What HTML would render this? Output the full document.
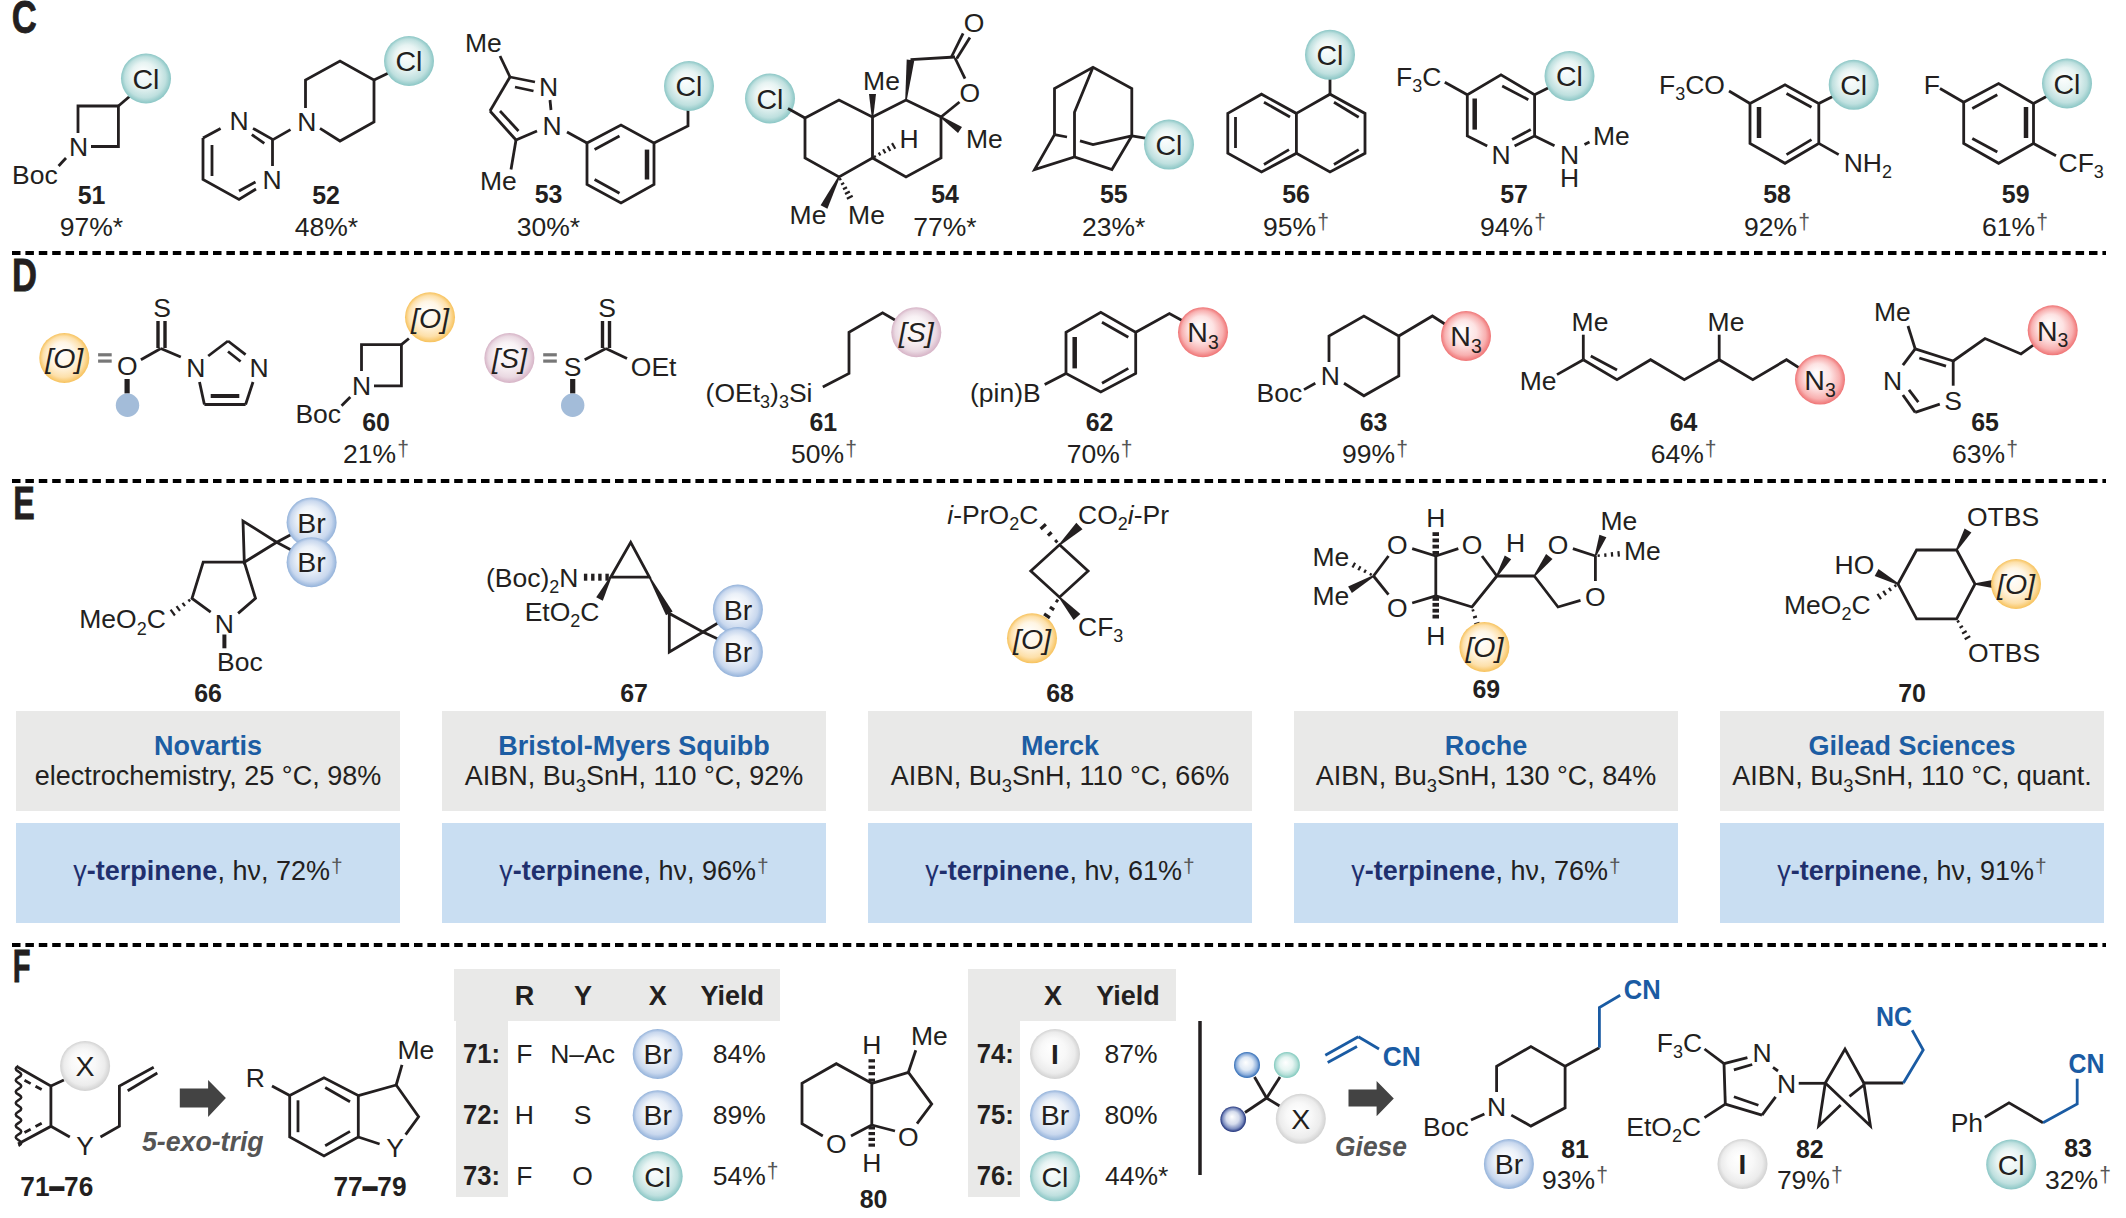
<!DOCTYPE html>
<html><head><meta charset="utf-8"><style>
html,body{margin:0;padding:0;background:#fff;}
svg{display:block;font-family:"Liberation Sans",sans-serif;}
</style></head><body>
<svg width="2126" height="1218" viewBox="0 0 2126 1218">
<defs><radialGradient id="g_cl" cx="0.5" cy="0.5" r="0.5" fx="0.42" fy="0.36"><stop offset="0" stop-color="#ffffff"/><stop offset="0.5" stop-color="#e6f3f2"/><stop offset="0.82" stop-color="#bfe0df"/><stop offset="1" stop-color="#8ac6c5"/></radialGradient><radialGradient id="g_br" cx="0.5" cy="0.5" r="0.5" fx="0.42" fy="0.36"><stop offset="0" stop-color="#ffffff"/><stop offset="0.5" stop-color="#eaf0f8"/><stop offset="0.82" stop-color="#c9d8ee"/><stop offset="1" stop-color="#93b2da"/></radialGradient><radialGradient id="g_o" cx="0.5" cy="0.5" r="0.5" fx="0.42" fy="0.36"><stop offset="0" stop-color="#ffffff"/><stop offset="0.5" stop-color="#fff5e3"/><stop offset="0.82" stop-color="#fde0aa"/><stop offset="1" stop-color="#f7c25c"/></radialGradient><radialGradient id="g_s" cx="0.5" cy="0.5" r="0.5" fx="0.42" fy="0.36"><stop offset="0" stop-color="#ffffff"/><stop offset="0.5" stop-color="#f8f1f4"/><stop offset="0.82" stop-color="#ead9e2"/><stop offset="1" stop-color="#d6b3c6"/></radialGradient><radialGradient id="g_n3" cx="0.5" cy="0.5" r="0.5" fx="0.42" fy="0.36"><stop offset="0" stop-color="#ffffff"/><stop offset="0.5" stop-color="#fde3e3"/><stop offset="0.82" stop-color="#f8b0b0"/><stop offset="1" stop-color="#ef7475"/></radialGradient><radialGradient id="g_x" cx="0.5" cy="0.5" r="0.5" fx="0.42" fy="0.36"><stop offset="0" stop-color="#ffffff"/><stop offset="0.5" stop-color="#f8f8f8"/><stop offset="0.82" stop-color="#ececec"/><stop offset="1" stop-color="#d2d2d2"/></radialGradient><radialGradient id="g_b1" cx="0.5" cy="0.5" r="0.5" fx="0.45" fy="0.4"><stop offset="0" stop-color="#ffffff"/><stop offset="0.5" stop-color="#dfe9f5"/><stop offset="0.8" stop-color="#8fb0dc"/><stop offset="1" stop-color="#2f6bb5"/></radialGradient><radialGradient id="g_b2" cx="0.5" cy="0.5" r="0.5" fx="0.45" fy="0.4"><stop offset="0" stop-color="#ffffff"/><stop offset="0.5" stop-color="#e6f5f2"/><stop offset="0.8" stop-color="#b7e0d9"/><stop offset="1" stop-color="#80c9bd"/></radialGradient><radialGradient id="g_b3" cx="0.5" cy="0.5" r="0.5" fx="0.45" fy="0.4"><stop offset="0" stop-color="#ffffff"/><stop offset="0.5" stop-color="#d5dcec"/><stop offset="0.8" stop-color="#7e8fc0"/><stop offset="1" stop-color="#1d2f78"/></radialGradient></defs>
<rect width="2126" height="1218" fill="#fff"/>
<line x1="12" y1="253" x2="2106" y2="253" stroke="#000" stroke-width="4" stroke-dasharray="8.5 4.9"/>
<line x1="12" y1="481" x2="2106" y2="481" stroke="#000" stroke-width="4" stroke-dasharray="8.5 4.9"/>
<line x1="12" y1="945" x2="2106" y2="945" stroke="#000" stroke-width="4" stroke-dasharray="8.5 4.9"/>
<text x="11.8" y="33.2" font-size="47" fill="#231f20" font-weight="bold" textLength="25" lengthAdjust="spacingAndGlyphs" stroke="#231f20" stroke-width="0.8">C</text>
<text x="12" y="291" font-size="47" fill="#231f20" font-weight="bold" textLength="25" lengthAdjust="spacingAndGlyphs" stroke="#231f20" stroke-width="0.8">D</text>
<text x="13.3" y="519.2" font-size="47" fill="#231f20" font-weight="bold" textLength="21.5" lengthAdjust="spacingAndGlyphs" stroke="#231f20" stroke-width="0.8">E</text>
<text x="12.8" y="981.8" font-size="47" fill="#231f20" font-weight="bold" textLength="17.8" lengthAdjust="spacingAndGlyphs" stroke="#231f20" stroke-width="0.8">F</text>
<rect x="16" y="711" width="384" height="100" fill="#e9e9e8"/>
<rect x="16" y="823" width="384" height="100" fill="#c9def2"/>
<text x="208" y="755" font-size="27" fill="#1c5da3" text-anchor="middle" font-weight="bold">Novartis</text>
<text x="208" y="785" font-size="27" fill="#231f20" text-anchor="middle">electrochemistry, 25 °C, 98%</text>
<text x="208" y="879.5" font-size="27" text-anchor="middle" fill="#231f20"><tspan fill="#1f2f6d">γ</tspan><tspan font-weight="bold" fill="#1f2f6d">-terpinene</tspan>, hν, 72%<tspan dy="-7" dx="1" font-size="21" fill="#555">†</tspan></text>
<rect x="442" y="711" width="384" height="100" fill="#e9e9e8"/>
<rect x="442" y="823" width="384" height="100" fill="#c9def2"/>
<text x="634" y="755" font-size="27" fill="#1c5da3" text-anchor="middle" font-weight="bold">Bristol-Myers Squibb</text>
<text x="634" y="785" font-size="27" fill="#231f20" text-anchor="middle">AIBN, Bu<tspan dy="6.5" font-size="18.4">3</tspan><tspan dy="-6.5">​</tspan>SnH, 110 °C, 92%</text>
<text x="634" y="879.5" font-size="27" text-anchor="middle" fill="#231f20"><tspan fill="#1f2f6d">γ</tspan><tspan font-weight="bold" fill="#1f2f6d">-terpinene</tspan>, hν, 96%<tspan dy="-7" dx="1" font-size="21" fill="#555">†</tspan></text>
<rect x="868" y="711" width="384" height="100" fill="#e9e9e8"/>
<rect x="868" y="823" width="384" height="100" fill="#c9def2"/>
<text x="1060" y="755" font-size="27" fill="#1c5da3" text-anchor="middle" font-weight="bold">Merck</text>
<text x="1060" y="785" font-size="27" fill="#231f20" text-anchor="middle">AIBN, Bu<tspan dy="6.5" font-size="18.4">3</tspan><tspan dy="-6.5">​</tspan>SnH, 110 °C, 66%</text>
<text x="1060" y="879.5" font-size="27" text-anchor="middle" fill="#231f20"><tspan fill="#1f2f6d">γ</tspan><tspan font-weight="bold" fill="#1f2f6d">-terpinene</tspan>, hν, 61%<tspan dy="-7" dx="1" font-size="21" fill="#555">†</tspan></text>
<rect x="1294" y="711" width="384" height="100" fill="#e9e9e8"/>
<rect x="1294" y="823" width="384" height="100" fill="#c9def2"/>
<text x="1486" y="755" font-size="27" fill="#1c5da3" text-anchor="middle" font-weight="bold">Roche</text>
<text x="1486" y="785" font-size="27" fill="#231f20" text-anchor="middle">AIBN, Bu<tspan dy="6.5" font-size="18.4">3</tspan><tspan dy="-6.5">​</tspan>SnH, 130 °C, 84%</text>
<text x="1486" y="879.5" font-size="27" text-anchor="middle" fill="#231f20"><tspan fill="#1f2f6d">γ</tspan><tspan font-weight="bold" fill="#1f2f6d">-terpinene</tspan>, hν, 76%<tspan dy="-7" dx="1" font-size="21" fill="#555">†</tspan></text>
<rect x="1720" y="711" width="384" height="100" fill="#e9e9e8"/>
<rect x="1720" y="823" width="384" height="100" fill="#c9def2"/>
<text x="1912" y="755" font-size="27" fill="#1c5da3" text-anchor="middle" font-weight="bold">Gilead Sciences</text>
<text x="1912" y="785" font-size="27" fill="#231f20" text-anchor="middle">AIBN, Bu<tspan dy="6.5" font-size="18.4">3</tspan><tspan dy="-6.5">​</tspan>SnH, 110 °C, quant.</text>
<text x="1912" y="879.5" font-size="27" text-anchor="middle" fill="#231f20"><tspan fill="#1f2f6d">γ</tspan><tspan font-weight="bold" fill="#1f2f6d">-terpinene</tspan>, hν, 91%<tspan dy="-7" dx="1" font-size="21" fill="#555">†</tspan></text>
<polyline points="78,133 78,106 118.4,106 118.4,146.5 91,146.5" fill="none" stroke="#231f20" stroke-width="2.8" stroke-linejoin="miter"/>
<line x1="118.4" y1="106" x2="133" y2="93.5" stroke="#231f20" stroke-width="2.8" stroke-linecap="butt"/>
<circle cx="146" cy="78.5" r="25" fill="url(#g_cl)"/>
<text x="146" y="88.7" font-size="28.5" fill="#231f20" text-anchor="middle">Cl</text>
<text x="78.5" y="155.5" font-size="26.5" fill="#231f20" text-anchor="middle">N</text>
<line x1="66" y1="158" x2="58.6" y2="166" stroke="#231f20" stroke-width="2.8" stroke-linecap="butt"/>
<text x="12" y="184" font-size="26.5" fill="#231f20">Boc</text>
<text x="91.5" y="204" font-size="25.5" fill="#231f20" text-anchor="middle" font-weight="bold" textLength="27.7" lengthAdjust="spacingAndGlyphs">51</text>
<text x="91.5" y="235.5" font-size="26.5" fill="#231f20" text-anchor="middle">97%*</text>
<line x1="203" y1="138" x2="220.6" y2="128.4" stroke="#231f20" stroke-width="2.8" stroke-linecap="butt"/>
<polyline points="203,138 203,179.5 239,199.5 256,189" fill="none" stroke="#231f20" stroke-width="2.8" stroke-linejoin="miter"/>
<line x1="212" y1="145" x2="212" y2="176" stroke="#231f20" stroke-width="2.8" stroke-linecap="butt"/>
<line x1="239" y1="191" x2="255.5" y2="182" stroke="#231f20" stroke-width="2.8" stroke-linecap="butt"/>
<line x1="272.5" y1="139.6" x2="272.5" y2="166" stroke="#231f20" stroke-width="2.8" stroke-linecap="butt"/>
<line x1="273" y1="139.6" x2="253" y2="128.4" stroke="#231f20" stroke-width="2.8" stroke-linecap="butt"/>
<line x1="251.8" y1="134.6" x2="264.3" y2="143.4" stroke="#231f20" stroke-width="2.8" stroke-linecap="butt"/>
<text x="239" y="129.5" font-size="26.5" fill="#231f20" text-anchor="middle">N</text>
<text x="272" y="189" font-size="26.5" fill="#231f20" text-anchor="middle">N</text>
<line x1="273" y1="139.6" x2="290.5" y2="129.6" stroke="#231f20" stroke-width="2.8" stroke-linecap="butt"/>
<text x="306.7" y="130.5" font-size="26.5" fill="#231f20" text-anchor="middle">N</text>
<polyline points="305.5,108 305.5,80 340,61 374,80 374,122 340,141 320,128.4" fill="none" stroke="#231f20" stroke-width="2.8" stroke-linejoin="miter"/>
<line x1="374" y1="80" x2="392.7" y2="71" stroke="#231f20" stroke-width="2.8" stroke-linecap="butt"/>
<circle cx="409" cy="61" r="25" fill="url(#g_cl)"/>
<text x="409" y="71.2" font-size="28.5" fill="#231f20" text-anchor="middle">Cl</text>
<text x="326" y="204" font-size="25.5" fill="#231f20" text-anchor="middle" font-weight="bold" textLength="27.7" lengthAdjust="spacingAndGlyphs">52</text>
<text x="326.5" y="235.5" font-size="26.5" fill="#231f20" text-anchor="middle">48%*</text>
<text x="465" y="52" font-size="26.5" fill="#231f20">Me</text>
<line x1="500" y1="56" x2="510" y2="77" stroke="#231f20" stroke-width="2.8" stroke-linecap="butt"/>
<line x1="510" y1="77" x2="535" y2="82" stroke="#231f20" stroke-width="2.8" stroke-linecap="butt"/>
<line x1="515" y1="87" x2="533.5" y2="91" stroke="#231f20" stroke-width="2.8" stroke-linecap="butt"/>
<text x="548.5" y="95.5" font-size="26.5" fill="#231f20" text-anchor="middle">N</text>
<line x1="550" y1="100" x2="551" y2="110" stroke="#231f20" stroke-width="2.8" stroke-linecap="butt"/>
<text x="552" y="134.5" font-size="26.5" fill="#231f20" text-anchor="middle">N</text>
<line x1="510" y1="77" x2="490" y2="111" stroke="#231f20" stroke-width="2.8" stroke-linecap="butt"/>
<line x1="490" y1="111" x2="516" y2="140" stroke="#231f20" stroke-width="2.8" stroke-linecap="butt"/>
<line x1="500" y1="111" x2="518.5" y2="131" stroke="#231f20" stroke-width="2.8" stroke-linecap="butt"/>
<line x1="516" y1="140" x2="537" y2="131" stroke="#231f20" stroke-width="2.8" stroke-linecap="butt"/>
<line x1="516" y1="140" x2="511" y2="169.5" stroke="#231f20" stroke-width="2.8" stroke-linecap="butt"/>
<text x="480" y="190" font-size="26.5" fill="#231f20">Me</text>
<line x1="567" y1="132" x2="587" y2="143" stroke="#231f20" stroke-width="2.8" stroke-linecap="butt"/>
<polygon points="587,143 621,125 654,143 654,184.5 621,203 587,184.5" fill="none" stroke="#231f20" stroke-width="2.8" stroke-linejoin="miter"/>
<line x1="594.6" y1="149.6" x2="619.5" y2="135.9" stroke="#231f20" stroke-width="2.8" stroke-linecap="butt"/>
<line x1="647" y1="149.6" x2="647" y2="179.5" stroke="#231f20" stroke-width="4.5" stroke-linecap="butt"/>
<line x1="594.6" y1="179.5" x2="619.5" y2="193.2" stroke="#231f20" stroke-width="2.8" stroke-linecap="butt"/>
<polyline points="654,143 688,126 688,101" fill="none" stroke="#231f20" stroke-width="2.8" stroke-linejoin="miter"/>
<circle cx="689" cy="86" r="25" fill="url(#g_cl)"/>
<text x="689" y="96.2" font-size="28.5" fill="#231f20" text-anchor="middle">Cl</text>
<text x="548.5" y="203" font-size="25.5" fill="#231f20" text-anchor="middle" font-weight="bold" textLength="27.7" lengthAdjust="spacingAndGlyphs">53</text>
<text x="548.5" y="235.5" font-size="26.5" fill="#231f20" text-anchor="middle">30%*</text>
<circle cx="770" cy="98.5" r="25" fill="url(#g_cl)"/>
<text x="770" y="108.7" font-size="28.5" fill="#231f20" text-anchor="middle">Cl</text>
<line x1="788" y1="108.5" x2="805" y2="118" stroke="#231f20" stroke-width="2.8" stroke-linecap="butt"/>
<polygon points="805,118 839,100 872.5,117 872.5,158 839,177 805,158" fill="none" stroke="#231f20" stroke-width="2.8" stroke-linejoin="miter"/>
<polyline points="872.5,117 906,100 941,117 941,158 906,177 872.5,158" fill="none" stroke="#231f20" stroke-width="2.8" stroke-linejoin="miter"/>
<polygon points="873.3,117 876,94 869,94 871.7,117" fill="#231f20"/>
<text x="881.5" y="90" font-size="26.5" fill="#231f20" text-anchor="middle">Me</text>
<line x1="875.5" y1="157.7" x2="874.2" y2="155.6" stroke="#231f20" stroke-width="2.2" stroke-linecap="butt"/>
<line x1="880.4" y1="155.5" x2="878.7" y2="152.5" stroke="#231f20" stroke-width="2.2" stroke-linecap="butt"/>
<line x1="885.4" y1="153.3" x2="883.1" y2="149.3" stroke="#231f20" stroke-width="2.2" stroke-linecap="butt"/>
<line x1="890.3" y1="151" x2="887.6" y2="146.2" stroke="#231f20" stroke-width="2.2" stroke-linecap="butt"/>
<line x1="895.3" y1="148.8" x2="892" y2="143.1" stroke="#231f20" stroke-width="2.2" stroke-linecap="butt"/>
<text x="909" y="147.5" font-size="26.5" fill="#231f20" text-anchor="middle">H</text>
<polygon points="838.3,176.6 820.6,205.3 827.4,208.7 839.7,177.4" fill="#231f20"/>
<line x1="839.1" y1="179.8" x2="841.3" y2="178.7" stroke="#231f20" stroke-width="2.2" stroke-linecap="butt"/>
<line x1="841.1" y1="184.6" x2="844.1" y2="182.9" stroke="#231f20" stroke-width="2.2" stroke-linecap="butt"/>
<line x1="843" y1="189.3" x2="847" y2="187.2" stroke="#231f20" stroke-width="2.2" stroke-linecap="butt"/>
<line x1="845" y1="194" x2="849.8" y2="191.5" stroke="#231f20" stroke-width="2.2" stroke-linecap="butt"/>
<line x1="846.9" y1="198.8" x2="852.7" y2="195.7" stroke="#231f20" stroke-width="2.2" stroke-linecap="butt"/>
<text x="808" y="224" font-size="26.5" fill="#231f20" text-anchor="middle">Me</text>
<text x="866.5" y="224" font-size="26.5" fill="#231f20" text-anchor="middle">Me</text>
<polygon points="906.8,100.1 914.3,60.4 906.7,59.6 905.2,99.9" fill="#231f20"/>
<line x1="910.5" y1="59.6" x2="955" y2="57" stroke="#231f20" stroke-width="2.8" stroke-linecap="butt"/>
<line x1="951.4" y1="57" x2="963.1" y2="33.4" stroke="#231f20" stroke-width="2.8" stroke-linecap="butt"/>
<line x1="956.8" y1="58.5" x2="969.9" y2="37.5" stroke="#231f20" stroke-width="2.8" stroke-linecap="butt"/>
<text x="974" y="31.6" font-size="26.5" fill="#231f20" text-anchor="middle">O</text>
<line x1="955" y1="58" x2="965" y2="78.6" stroke="#231f20" stroke-width="2.8" stroke-linecap="butt"/>
<text x="969.9" y="101.6" font-size="26.5" fill="#231f20" text-anchor="middle">O</text>
<line x1="959.5" y1="102" x2="941" y2="117" stroke="#231f20" stroke-width="2.8" stroke-linecap="butt"/>
<polygon points="940.5,117.7 958,132.9 962,127.1 941.5,116.3" fill="#231f20"/>
<text x="966" y="148" font-size="26.5" fill="#231f20">Me</text>
<text x="945" y="203" font-size="25.5" fill="#231f20" text-anchor="middle" font-weight="bold" textLength="27.7" lengthAdjust="spacingAndGlyphs">54</text>
<text x="945" y="235.5" font-size="26.5" fill="#231f20" text-anchor="middle">77%*</text>
<polyline points="1054.5,134.6 1054.5,88.5 1093,67.3 1131.8,88.5 1131.8,135.9 1111.9,169.5 1074.5,157 1034.6,169.5 1054.5,134.6" fill="none" stroke="#231f20" stroke-width="2.8" stroke-linejoin="miter"/>
<polyline points="1093,67.3 1074.5,112.2 1074.5,157" fill="none" stroke="#231f20" stroke-width="2.8" stroke-linejoin="miter"/>
<line x1="1054.5" y1="134.6" x2="1067" y2="137" stroke="#231f20" stroke-width="2.8" stroke-linecap="butt"/>
<polyline points="1080,140.9 1093,144.6 1131.8,135.9" fill="none" stroke="#231f20" stroke-width="2.8" stroke-linejoin="miter"/>
<line x1="1131.8" y1="135.9" x2="1146.8" y2="138.4" stroke="#231f20" stroke-width="2.8" stroke-linecap="butt"/>
<circle cx="1169" cy="144.6" r="25" fill="url(#g_cl)"/>
<text x="1169" y="154.8" font-size="28.5" fill="#231f20" text-anchor="middle">Cl</text>
<text x="1113.8" y="203" font-size="25.5" fill="#231f20" text-anchor="middle" font-weight="bold" textLength="27.7" lengthAdjust="spacingAndGlyphs">55</text>
<text x="1113.7" y="235.5" font-size="26.5" fill="#231f20" text-anchor="middle">23%*</text>
<polygon points="1227.8,113.4 1261.5,94.2 1296.4,113.4 1296.4,153.3 1261.5,172 1227.8,153.3" fill="none" stroke="#231f20" stroke-width="2.8" stroke-linejoin="miter"/>
<polyline points="1296.4,113.4 1330,94.2 1365,113.4 1365,153.3 1330,172 1296.4,153.3" fill="none" stroke="#231f20" stroke-width="2.8" stroke-linejoin="miter"/>
<line x1="1235.5" y1="117" x2="1235.5" y2="148" stroke="#231f20" stroke-width="2.8" stroke-linecap="butt"/>
<line x1="1264" y1="102.2" x2="1290" y2="117" stroke="#231f20" stroke-width="2.8" stroke-linecap="butt"/>
<line x1="1264" y1="164.5" x2="1289" y2="149.6" stroke="#231f20" stroke-width="2.8" stroke-linecap="butt"/>
<line x1="1334" y1="102.2" x2="1358.7" y2="117.2" stroke="#231f20" stroke-width="2.8" stroke-linecap="butt"/>
<line x1="1334" y1="164.5" x2="1358.7" y2="149.6" stroke="#231f20" stroke-width="2.8" stroke-linecap="butt"/>
<line x1="1330" y1="94.2" x2="1330" y2="76" stroke="#231f20" stroke-width="2.8" stroke-linecap="butt"/>
<circle cx="1330" cy="54.8" r="25" fill="url(#g_cl)"/>
<text x="1330" y="65" font-size="28.5" fill="#231f20" text-anchor="middle">Cl</text>
<text x="1296" y="203" font-size="25.5" fill="#231f20" text-anchor="middle" font-weight="bold" textLength="27.7" lengthAdjust="spacingAndGlyphs">56</text>
<text x="1296" y="235.5" font-size="26.5" fill="#231f20" text-anchor="middle">95%<tspan dy="-6.9" dx="1" font-size="21.2" fill="#555">†</tspan><tspan dy="6.9">​</tspan></text>
<text x="1396" y="86" font-size="26.5" fill="#231f20">F<tspan dy="6.4" font-size="18">3</tspan><tspan dy="-6.4">​</tspan>C</text>
<line x1="1444.8" y1="82.3" x2="1467.3" y2="94.7" stroke="#231f20" stroke-width="2.8" stroke-linecap="butt"/>
<polyline points="1487.2,145.9 1467.3,135.9 1467.3,94.7 1501,74.8 1534.6,94.7 1534.6,135.9 1514.6,145.9" fill="none" stroke="#231f20" stroke-width="2.8" stroke-linejoin="miter"/>
<line x1="1474.7" y1="98.5" x2="1474.7" y2="129.6" stroke="#231f20" stroke-width="4.5" stroke-linecap="butt"/>
<line x1="1502.2" y1="86" x2="1528.3" y2="99.7" stroke="#231f20" stroke-width="2.8" stroke-linecap="butt"/>
<line x1="1512.1" y1="139.6" x2="1530.8" y2="129.6" stroke="#231f20" stroke-width="2.8" stroke-linecap="butt"/>
<text x="1501" y="164.1" font-size="26.5" fill="#231f20" text-anchor="middle">N</text>
<line x1="1534.6" y1="94.7" x2="1554.5" y2="84.8" stroke="#231f20" stroke-width="2.8" stroke-linecap="butt"/>
<circle cx="1569.5" cy="76" r="25" fill="url(#g_cl)"/>
<text x="1569.5" y="86.2" font-size="28.5" fill="#231f20" text-anchor="middle">Cl</text>
<line x1="1534.6" y1="135.9" x2="1554.5" y2="145.8" stroke="#231f20" stroke-width="2.8" stroke-linecap="butt"/>
<text x="1569.5" y="164.1" font-size="26.5" fill="#231f20" text-anchor="middle">N</text>
<text x="1569.5" y="186.5" font-size="26.5" fill="#231f20" text-anchor="middle">H</text>
<line x1="1584.5" y1="144.6" x2="1589.5" y2="142" stroke="#231f20" stroke-width="2.8" stroke-linecap="butt"/>
<text x="1593" y="144.6" font-size="26.5" fill="#231f20">Me</text>
<text x="1514" y="203" font-size="25.5" fill="#231f20" text-anchor="middle" font-weight="bold" textLength="27.7" lengthAdjust="spacingAndGlyphs">57</text>
<text x="1513" y="235.5" font-size="26.5" fill="#231f20" text-anchor="middle">94%<tspan dy="-6.9" dx="1" font-size="21.2" fill="#555">†</tspan><tspan dy="6.9">​</tspan></text>
<text x="1659" y="94" font-size="26.5" fill="#231f20">F<tspan dy="6.4" font-size="18">3</tspan><tspan dy="-6.4">​</tspan>CO</text>
<line x1="1729" y1="91" x2="1750" y2="103.5" stroke="#231f20" stroke-width="2.8" stroke-linecap="butt"/>
<polygon points="1750,103.5 1785,84.8 1818.8,103.5 1818.8,143.4 1785,163.3 1750,143.4" fill="none" stroke="#231f20" stroke-width="2.8" stroke-linejoin="miter"/>
<line x1="1759" y1="107" x2="1759" y2="138" stroke="#231f20" stroke-width="4.5" stroke-linecap="butt"/>
<line x1="1786.5" y1="93.5" x2="1811.5" y2="107.2" stroke="#231f20" stroke-width="2.8" stroke-linecap="butt"/>
<line x1="1786.5" y1="154.6" x2="1811.5" y2="139.6" stroke="#231f20" stroke-width="2.8" stroke-linecap="butt"/>
<line x1="1818.8" y1="103.5" x2="1838.7" y2="93.5" stroke="#231f20" stroke-width="2.8" stroke-linecap="butt"/>
<circle cx="1853.7" cy="84.8" r="25" fill="url(#g_cl)"/>
<text x="1853.7" y="95" font-size="28.5" fill="#231f20" text-anchor="middle">Cl</text>
<line x1="1818.8" y1="143.4" x2="1838.7" y2="154.6" stroke="#231f20" stroke-width="2.8" stroke-linecap="butt"/>
<text x="1843.7" y="172" font-size="26.5" fill="#231f20">NH<tspan dy="6.4" font-size="18">2</tspan><tspan dy="-6.4">​</tspan></text>
<text x="1777" y="203" font-size="25.5" fill="#231f20" text-anchor="middle" font-weight="bold" textLength="27.7" lengthAdjust="spacingAndGlyphs">58</text>
<text x="1777" y="235.5" font-size="26.5" fill="#231f20" text-anchor="middle">92%<tspan dy="-6.9" dx="1" font-size="21.2" fill="#555">†</tspan><tspan dy="6.9">​</tspan></text>
<text x="1923.8" y="93.5" font-size="26.5" fill="#231f20">F</text>
<line x1="1940" y1="88.5" x2="1963.7" y2="102.2" stroke="#231f20" stroke-width="2.8" stroke-linecap="butt"/>
<polygon points="1963.7,102.2 1998.6,83.5 2033.5,103.5 2033.5,143.4 1998.6,163.3 1963.7,143.4" fill="none" stroke="#231f20" stroke-width="2.8" stroke-linejoin="miter"/>
<line x1="1972.3" y1="108.4" x2="1997.3" y2="94.7" stroke="#231f20" stroke-width="2.8" stroke-linecap="butt"/>
<line x1="2026" y1="107" x2="2026" y2="138" stroke="#231f20" stroke-width="4.5" stroke-linecap="butt"/>
<line x1="1972.3" y1="138.4" x2="1997.3" y2="152.1" stroke="#231f20" stroke-width="2.8" stroke-linecap="butt"/>
<line x1="2033.5" y1="103.5" x2="2052" y2="93.5" stroke="#231f20" stroke-width="2.8" stroke-linecap="butt"/>
<circle cx="2067" cy="83.5" r="25" fill="url(#g_cl)"/>
<text x="2067" y="93.7" font-size="28.5" fill="#231f20" text-anchor="middle">Cl</text>
<line x1="2033.5" y1="143.4" x2="2056" y2="155.8" stroke="#231f20" stroke-width="2.8" stroke-linecap="butt"/>
<text x="2058.5" y="172" font-size="26.5" fill="#231f20">CF<tspan dy="6.4" font-size="18">3</tspan><tspan dy="-6.4">​</tspan></text>
<text x="2015.7" y="203" font-size="25.5" fill="#231f20" text-anchor="middle" font-weight="bold" textLength="27.7" lengthAdjust="spacingAndGlyphs">59</text>
<text x="2015" y="235.5" font-size="26.5" fill="#231f20" text-anchor="middle">61%<tspan dy="-6.9" dx="1" font-size="21.2" fill="#555">†</tspan><tspan dy="6.9">​</tspan></text>
<circle cx="64.3" cy="358" r="25" fill="url(#g_o)"/>
<text x="64.3" y="368.2" font-size="28.5" fill="#231f20" text-anchor="middle" font-style="italic">[O]</text>
<line x1="98.1" y1="354.8" x2="111.7" y2="354.8" stroke="#777" stroke-width="3.2" stroke-linecap="butt"/>
<line x1="98.1" y1="361.1" x2="111.7" y2="361.1" stroke="#777" stroke-width="3.2" stroke-linecap="butt"/>
<text x="127.3" y="375.3" font-size="26.5" fill="#231f20" text-anchor="middle">O</text>
<line x1="127.1" y1="379" x2="127.1" y2="393.5" stroke="#231f20" stroke-width="5.2" stroke-linecap="butt"/>
<circle cx="127.5" cy="405.2" r="11.7" fill="#a3bcd9"/>
<line x1="140.9" y1="359.7" x2="160.8" y2="348.5" stroke="#231f20" stroke-width="2.8" stroke-linecap="butt"/>
<line x1="158" y1="321" x2="158" y2="348" stroke="#231f20" stroke-width="3.4" stroke-linecap="butt"/>
<line x1="165" y1="321" x2="165" y2="348" stroke="#231f20" stroke-width="3.4" stroke-linecap="butt"/>
<text x="162" y="316.8" font-size="26.5" fill="#231f20" text-anchor="middle">S</text>
<line x1="160.8" y1="348.5" x2="180.8" y2="357" stroke="#231f20" stroke-width="2.8" stroke-linecap="butt"/>
<text x="195.7" y="376.5" font-size="26.5" fill="#231f20" text-anchor="middle">N</text>
<text x="259" y="376.5" font-size="26.5" fill="#231f20" text-anchor="middle">N</text>
<line x1="208.2" y1="356" x2="228" y2="341" stroke="#231f20" stroke-width="2.8" stroke-linecap="butt"/>
<line x1="228" y1="341" x2="245.6" y2="354.7" stroke="#231f20" stroke-width="2.8" stroke-linecap="butt"/>
<line x1="228" y1="351.5" x2="240.6" y2="361.5" stroke="#231f20" stroke-width="2.8" stroke-linecap="butt"/>
<line x1="253" y1="382" x2="245.6" y2="404.5" stroke="#231f20" stroke-width="2.8" stroke-linecap="butt"/>
<line x1="245.6" y1="404.5" x2="204.4" y2="404.5" stroke="#231f20" stroke-width="2.8" stroke-linecap="butt"/>
<line x1="210.7" y1="396" x2="239.3" y2="396" stroke="#231f20" stroke-width="4" stroke-linecap="butt"/>
<line x1="204.4" y1="404.5" x2="199.5" y2="382" stroke="#231f20" stroke-width="2.8" stroke-linecap="butt"/>
<polyline points="361.5,371 361.5,344.7 401.4,344.7 401.4,385.8 374,385.8" fill="none" stroke="#231f20" stroke-width="2.8" stroke-linejoin="miter"/>
<line x1="401.4" y1="344.7" x2="408.9" y2="338.5" stroke="#231f20" stroke-width="2.8" stroke-linecap="butt"/>
<circle cx="430" cy="317.3" r="25" fill="url(#g_o)"/>
<text x="430" y="327.5" font-size="28.5" fill="#231f20" text-anchor="middle" font-style="italic">[O]</text>
<text x="361.5" y="395.3" font-size="26.5" fill="#231f20" text-anchor="middle">N</text>
<line x1="350.3" y1="397" x2="341.6" y2="405.8" stroke="#231f20" stroke-width="2.8" stroke-linecap="butt"/>
<text x="295.4" y="423" font-size="26.5" fill="#231f20">Boc</text>
<text x="376" y="430.7" font-size="25.5" fill="#231f20" text-anchor="middle" font-weight="bold" textLength="27.7" lengthAdjust="spacingAndGlyphs">60</text>
<text x="376" y="463" font-size="26.5" fill="#231f20" text-anchor="middle">21%<tspan dy="-6.9" dx="1" font-size="21.2" fill="#555">†</tspan><tspan dy="6.9">​</tspan></text>
<circle cx="509.4" cy="358" r="25" fill="url(#g_s)"/>
<text x="509.4" y="368.2" font-size="28.5" fill="#231f20" text-anchor="middle" font-style="italic">[S]</text>
<line x1="543.2" y1="354.8" x2="556.8" y2="354.8" stroke="#777" stroke-width="3.2" stroke-linecap="butt"/>
<line x1="543.2" y1="361.1" x2="556.8" y2="361.1" stroke="#777" stroke-width="3.2" stroke-linecap="butt"/>
<text x="572.7" y="375.5" font-size="26.5" fill="#231f20" text-anchor="middle">S</text>
<line x1="572.7" y1="379" x2="572.7" y2="393.5" stroke="#231f20" stroke-width="5.2" stroke-linecap="butt"/>
<circle cx="572.7" cy="405.2" r="11.7" fill="#a3bcd9"/>
<line x1="584.7" y1="359.7" x2="605.9" y2="348.5" stroke="#231f20" stroke-width="2.8" stroke-linecap="butt"/>
<line x1="602.5" y1="321" x2="602.5" y2="348" stroke="#231f20" stroke-width="3.4" stroke-linecap="butt"/>
<line x1="609.5" y1="321" x2="609.5" y2="348" stroke="#231f20" stroke-width="3.4" stroke-linecap="butt"/>
<text x="607" y="316.8" font-size="26.5" fill="#231f20" text-anchor="middle">S</text>
<line x1="605.9" y1="348.5" x2="627" y2="358.4" stroke="#231f20" stroke-width="2.8" stroke-linecap="butt"/>
<text x="630.8" y="376" font-size="26.5" fill="#231f20">OEt</text>
<text x="705.6" y="402" font-size="26.5" fill="#231f20">(OEt<tspan dy="6.4" font-size="18">3</tspan><tspan dy="-6.4">​</tspan>)<tspan dy="6.4" font-size="18">3</tspan><tspan dy="-6.4">​</tspan>Si</text>
<polyline points="822.8,387 849,373.4 849,332.2 882.6,312.8 898.8,322.3" fill="none" stroke="#231f20" stroke-width="2.8" stroke-linejoin="miter"/>
<circle cx="916.3" cy="332.2" r="25" fill="url(#g_s)"/>
<text x="916.3" y="342.4" font-size="28.5" fill="#231f20" text-anchor="middle" font-style="italic">[S]</text>
<text x="823.3" y="430.7" font-size="25.5" fill="#231f20" text-anchor="middle" font-weight="bold" textLength="27.7" lengthAdjust="spacingAndGlyphs">61</text>
<text x="824" y="463" font-size="26.5" fill="#231f20" text-anchor="middle">50%<tspan dy="-6.9" dx="1" font-size="21.2" fill="#555">†</tspan><tspan dy="6.9">​</tspan></text>
<text x="970" y="402" font-size="26.5" fill="#231f20">(pin)B</text>
<line x1="1044.7" y1="384.6" x2="1066" y2="373.4" stroke="#231f20" stroke-width="2.8" stroke-linecap="butt"/>
<polygon points="1066,373.4 1066,332.2 1100.8,312.3 1135.7,332.2 1135.7,373.4 1100.8,392" fill="none" stroke="#231f20" stroke-width="2.8" stroke-linejoin="miter"/>
<line x1="1074.7" y1="337" x2="1074.7" y2="368.4" stroke="#231f20" stroke-width="4.5" stroke-linecap="butt"/>
<line x1="1102" y1="322.3" x2="1128.3" y2="337.2" stroke="#231f20" stroke-width="2.8" stroke-linecap="butt"/>
<line x1="1102" y1="383.3" x2="1128.3" y2="368.4" stroke="#231f20" stroke-width="2.8" stroke-linecap="butt"/>
<polyline points="1135.7,332.2 1169.4,313.5 1183,321" fill="none" stroke="#231f20" stroke-width="2.8" stroke-linejoin="miter"/>
<circle cx="1203" cy="332.2" r="25" fill="url(#g_n3)"/>
<text x="1203" y="342.4" font-size="28.5" fill="#231f20" text-anchor="middle">N<tspan dy="6.8" font-size="19.4">3</tspan><tspan dy="-6.8">​</tspan></text>
<text x="1099.6" y="430.7" font-size="25.5" fill="#231f20" text-anchor="middle" font-weight="bold" textLength="27.7" lengthAdjust="spacingAndGlyphs">62</text>
<text x="1099.6" y="463" font-size="26.5" fill="#231f20" text-anchor="middle">70%<tspan dy="-6.9" dx="1" font-size="21.2" fill="#555">†</tspan><tspan dy="6.9">​</tspan></text>
<text x="1330.2" y="385.4" font-size="26.5" fill="#231f20" text-anchor="middle">N</text>
<polyline points="1329,362 1329,336 1363.9,316 1398.8,336 1398.8,375.9 1363.9,395.8 1344,383.3" fill="none" stroke="#231f20" stroke-width="2.8" stroke-linejoin="miter"/>
<text x="1256.6" y="402" font-size="26.5" fill="#231f20">Boc</text>
<line x1="1315.3" y1="383.3" x2="1304" y2="389.6" stroke="#231f20" stroke-width="2.8" stroke-linecap="butt"/>
<polyline points="1398.8,336 1432.4,316 1446,324.8" fill="none" stroke="#231f20" stroke-width="2.8" stroke-linejoin="miter"/>
<circle cx="1466" cy="336" r="25" fill="url(#g_n3)"/>
<text x="1466" y="346.2" font-size="28.5" fill="#231f20" text-anchor="middle">N<tspan dy="6.8" font-size="19.4">3</tspan><tspan dy="-6.8">​</tspan></text>
<text x="1373.6" y="430.7" font-size="25.5" fill="#231f20" text-anchor="middle" font-weight="bold" textLength="27.7" lengthAdjust="spacingAndGlyphs">63</text>
<text x="1375" y="463" font-size="26.5" fill="#231f20" text-anchor="middle">99%<tspan dy="-6.9" dx="1" font-size="21.2" fill="#555">†</tspan><tspan dy="6.9">​</tspan></text>
<text x="1519.7" y="389.6" font-size="26.5" fill="#231f20">Me</text>
<line x1="1557" y1="374.6" x2="1583.3" y2="359.7" stroke="#231f20" stroke-width="2.8" stroke-linecap="butt"/>
<text x="1590" y="331" font-size="26.5" fill="#231f20" text-anchor="middle">Me</text>
<line x1="1583.3" y1="359.7" x2="1583.3" y2="334.7" stroke="#231f20" stroke-width="2.8" stroke-linecap="butt"/>
<polyline points="1583.3,359.7 1617,379.6 1650.6,359.7 1684.3,379.6 1719.2,359.7 1752.8,379.6 1786.5,359.7 1800,368.4" fill="none" stroke="#231f20" stroke-width="2.8" stroke-linejoin="miter"/>
<line x1="1590.8" y1="355.9" x2="1617" y2="370" stroke="#231f20" stroke-width="2.8" stroke-linecap="butt"/>
<line x1="1719.2" y1="359.7" x2="1719.2" y2="334.7" stroke="#231f20" stroke-width="2.8" stroke-linecap="butt"/>
<text x="1726" y="331" font-size="26.5" fill="#231f20" text-anchor="middle">Me</text>
<circle cx="1820" cy="379.6" r="25" fill="url(#g_n3)"/>
<text x="1820" y="389.8" font-size="28.5" fill="#231f20" text-anchor="middle">N<tspan dy="6.8" font-size="19.4">3</tspan><tspan dy="-6.8">​</tspan></text>
<text x="1683.6" y="430.7" font-size="25.5" fill="#231f20" text-anchor="middle" font-weight="bold" textLength="27.7" lengthAdjust="spacingAndGlyphs">64</text>
<text x="1683.6" y="463" font-size="26.5" fill="#231f20" text-anchor="middle">64%<tspan dy="-6.9" dx="1" font-size="21.2" fill="#555">†</tspan><tspan dy="6.9">​</tspan></text>
<text x="1874" y="321" font-size="26.5" fill="#231f20">Me</text>
<line x1="1908" y1="326" x2="1915.2" y2="348.8" stroke="#231f20" stroke-width="2.8" stroke-linecap="butt"/>
<line x1="1915.2" y1="348.8" x2="1953.2" y2="361" stroke="#231f20" stroke-width="2.8" stroke-linecap="butt"/>
<line x1="1919.3" y1="358" x2="1946" y2="366.2" stroke="#231f20" stroke-width="2.8" stroke-linecap="butt"/>
<line x1="1953.2" y1="361" x2="1953.2" y2="385.7" stroke="#231f20" stroke-width="2.8" stroke-linecap="butt"/>
<text x="1953.2" y="409.5" font-size="26.5" fill="#231f20" text-anchor="middle">S</text>
<line x1="1939.8" y1="404.2" x2="1915.2" y2="412.4" stroke="#231f20" stroke-width="2.8" stroke-linecap="butt"/>
<line x1="1915.2" y1="412.4" x2="1902.9" y2="395" stroke="#231f20" stroke-width="2.8" stroke-linecap="butt"/>
<line x1="1909" y1="389.8" x2="1918.3" y2="402.2" stroke="#231f20" stroke-width="2.8" stroke-linecap="butt"/>
<text x="1892.6" y="390.1" font-size="26.5" fill="#231f20" text-anchor="middle">N</text>
<line x1="1902.9" y1="365.2" x2="1915.2" y2="348.8" stroke="#231f20" stroke-width="2.8" stroke-linecap="butt"/>
<polyline points="1953.2,361 1985,338.5 2021,354 2035.3,343.7" fill="none" stroke="#231f20" stroke-width="2.8" stroke-linejoin="miter"/>
<circle cx="2052.7" cy="330.3" r="25" fill="url(#g_n3)"/>
<text x="2052.7" y="340.5" font-size="28.5" fill="#231f20" text-anchor="middle">N<tspan dy="6.8" font-size="19.4">3</tspan><tspan dy="-6.8">​</tspan></text>
<text x="1985" y="431" font-size="25.5" fill="#231f20" text-anchor="middle" font-weight="bold" textLength="27.7" lengthAdjust="spacingAndGlyphs">65</text>
<text x="1985" y="463" font-size="26.5" fill="#231f20" text-anchor="middle">63%<tspan dy="-6.9" dx="1" font-size="21.2" fill="#555">†</tspan><tspan dy="6.9">​</tspan></text>
<polygon points="244.3,562.2 243,521 276.7,542.3" fill="none" stroke="#231f20" stroke-width="2.8" stroke-linejoin="miter"/>
<line x1="276.7" y1="542.3" x2="295.4" y2="532.3" stroke="#231f20" stroke-width="2.8" stroke-linecap="butt"/>
<line x1="276.7" y1="542.3" x2="295.4" y2="552.3" stroke="#231f20" stroke-width="2.8" stroke-linecap="butt"/>
<circle cx="311.6" cy="522.4" r="25" fill="url(#g_br)"/>
<text x="311.6" y="532.6" font-size="28.5" fill="#231f20" text-anchor="middle">Br</text>
<circle cx="311.6" cy="562.2" r="25" fill="url(#g_br)"/>
<text x="311.6" y="572.4" font-size="28.5" fill="#231f20" text-anchor="middle">Br</text>
<polyline points="210.7,612.1 192,598.4 203.2,562.2 244.3,562.2 255.5,598.4 238.1,613.4" fill="none" stroke="#231f20" stroke-width="2.8" stroke-linejoin="miter"/>
<text x="224.4" y="632.8" font-size="26.5" fill="#231f20" text-anchor="middle">N</text>
<line x1="188.4" y1="599.3" x2="190.1" y2="601.5" stroke="#231f20" stroke-width="2.2" stroke-linecap="butt"/>
<line x1="182.5" y1="602.8" x2="185" y2="606.2" stroke="#231f20" stroke-width="2.2" stroke-linecap="butt"/>
<line x1="176.5" y1="606.2" x2="180" y2="610.8" stroke="#231f20" stroke-width="2.2" stroke-linecap="butt"/>
<line x1="170.6" y1="609.7" x2="174.9" y2="615.5" stroke="#231f20" stroke-width="2.2" stroke-linecap="butt"/>
<text x="79.3" y="628.3" font-size="26.5" fill="#231f20">MeO<tspan dy="6.4" font-size="18">2</tspan><tspan dy="-6.4">​</tspan>C</text>
<line x1="224.4" y1="634.5" x2="224.4" y2="648.3" stroke="#231f20" stroke-width="4" stroke-linecap="butt"/>
<text x="217" y="670.7" font-size="26.5" fill="#231f20">Boc</text>
<text x="208" y="702" font-size="25.5" fill="#231f20" text-anchor="middle" font-weight="bold" textLength="27.7" lengthAdjust="spacingAndGlyphs">66</text>
<polygon points="610.7,577.2 630.7,542.3 649.4,577.2" fill="none" stroke="#231f20" stroke-width="2.8" stroke-linejoin="miter"/>
<text x="486" y="587" font-size="26.5" fill="#231f20">(Boc)<tspan dy="6.4" font-size="18">2</tspan><tspan dy="-6.4">​</tspan>N</text>
<line x1="585.6" y1="580.7" x2="585.6" y2="573.7" stroke="#231f20" stroke-width="3.4" stroke-linecap="butt"/>
<line x1="592.8" y1="580.7" x2="592.8" y2="573.7" stroke="#231f20" stroke-width="3.4" stroke-linecap="butt"/>
<line x1="599.9" y1="580.7" x2="599.9" y2="573.7" stroke="#231f20" stroke-width="3.4" stroke-linecap="butt"/>
<line x1="607.1" y1="580.7" x2="607.1" y2="573.7" stroke="#231f20" stroke-width="3.4" stroke-linecap="butt"/>
<polygon points="610,576.8 596.2,597.3 602.8,600.7 611.4,577.6" fill="#231f20"/>
<text x="524.7" y="620.8" font-size="26.5" fill="#231f20">EtO<tspan dy="6.4" font-size="18">2</tspan><tspan dy="-6.4">​</tspan>C</text>
<polygon points="648.7,577.6 666,615.2 672.6,611.6 650.1,576.8" fill="#231f20"/>
<polygon points="669.3,613.4 669.3,652 703,632" fill="none" stroke="#231f20" stroke-width="2.8" stroke-linejoin="miter"/>
<line x1="703" y1="632" x2="721.7" y2="620.8" stroke="#231f20" stroke-width="2.8" stroke-linecap="butt"/>
<line x1="703" y1="632" x2="721.7" y2="640.8" stroke="#231f20" stroke-width="2.8" stroke-linecap="butt"/>
<circle cx="737.9" cy="609.6" r="25" fill="url(#g_br)"/>
<text x="737.9" y="619.8" font-size="28.5" fill="#231f20" text-anchor="middle">Br</text>
<circle cx="737.9" cy="652" r="25" fill="url(#g_br)"/>
<text x="737.9" y="662.2" font-size="28.5" fill="#231f20" text-anchor="middle">Br</text>
<text x="634" y="702" font-size="25.5" fill="#231f20" text-anchor="middle" font-weight="bold" textLength="27.7" lengthAdjust="spacingAndGlyphs">67</text>
<polygon points="1059.5,544.8 1088.1,571 1059.5,597.2 1030.8,571" fill="none" stroke="#231f20" stroke-width="2.8" stroke-linejoin="miter"/>
<text x="947.3" y="523.6" font-size="26.5" fill="#231f20"><tspan font-style="italic">i</tspan>-PrO<tspan dy="6.4" font-size="18">2</tspan><tspan dy="-6.4">​</tspan>C</text>
<line x1="1057.4" y1="540.2" x2="1055.1" y2="542.2" stroke="#231f20" stroke-width="3.2" stroke-linecap="butt"/>
<line x1="1051.6" y1="532.2" x2="1047.9" y2="535.6" stroke="#231f20" stroke-width="3.2" stroke-linecap="butt"/>
<line x1="1045.9" y1="524.3" x2="1040.6" y2="529" stroke="#231f20" stroke-width="3.2" stroke-linecap="butt"/>
<text x="1078" y="523.6" font-size="26.5" fill="#231f20">CO<tspan dy="6.4" font-size="18">2</tspan><tspan dy="-6.4">​</tspan><tspan font-style="italic">i</tspan>-Pr</text>
<polygon points="1060,545.4 1082.5,529.3 1076.3,522.7 1059,544.2" fill="#231f20"/>
<line x1="1055.8" y1="600.1" x2="1058.2" y2="601.8" stroke="#231f20" stroke-width="3.2" stroke-linecap="butt"/>
<line x1="1049.9" y1="607" x2="1054.1" y2="609.8" stroke="#231f20" stroke-width="3.2" stroke-linecap="butt"/>
<line x1="1044.1" y1="613.9" x2="1049.9" y2="617.8" stroke="#231f20" stroke-width="3.2" stroke-linecap="butt"/>
<polygon points="1058.9,597.7 1073.6,620 1080.4,614 1060.1,596.7" fill="#231f20"/>
<circle cx="1032" cy="638.3" r="25" fill="url(#g_o)"/>
<text x="1032" y="648.5" font-size="28.5" fill="#231f20" text-anchor="middle" font-style="italic">[O]</text>
<text x="1078" y="635.8" font-size="26.5" fill="#231f20">CF<tspan dy="6.4" font-size="18">3</tspan><tspan dy="-6.4">​</tspan></text>
<text x="1060" y="702" font-size="25.5" fill="#231f20" text-anchor="middle" font-weight="bold" textLength="27.7" lengthAdjust="spacingAndGlyphs">68</text>
<text x="1312.4" y="566" font-size="26.5" fill="#231f20">Me</text>
<text x="1312.4" y="604.6" font-size="26.5" fill="#231f20">Me</text>
<line x1="1371.3" y1="573.3" x2="1370.1" y2="575.5" stroke="#231f20" stroke-width="2.2" stroke-linecap="butt"/>
<line x1="1365.9" y1="569.8" x2="1364.2" y2="572.8" stroke="#231f20" stroke-width="2.2" stroke-linecap="butt"/>
<line x1="1360.5" y1="566.2" x2="1358.3" y2="570.2" stroke="#231f20" stroke-width="2.2" stroke-linecap="butt"/>
<line x1="1355.1" y1="562.7" x2="1352.5" y2="567.5" stroke="#231f20" stroke-width="2.2" stroke-linecap="butt"/>
<polygon points="1373.1,575.3 1348.1,586.5 1351.9,592.9 1373.9,576.7" fill="#231f20"/>
<text x="1397.2" y="554.3" font-size="26.5" fill="#231f20" text-anchor="middle">O</text>
<text x="1397.2" y="616.5" font-size="26.5" fill="#231f20" text-anchor="middle">O</text>
<line x1="1373.5" y1="576" x2="1388.5" y2="556" stroke="#231f20" stroke-width="2.8" stroke-linecap="butt"/>
<line x1="1373.5" y1="576" x2="1388.5" y2="594.7" stroke="#231f20" stroke-width="2.8" stroke-linecap="butt"/>
<line x1="1412.2" y1="548.6" x2="1435.8" y2="556" stroke="#231f20" stroke-width="2.8" stroke-linecap="butt"/>
<line x1="1412.2" y1="603" x2="1435.8" y2="595.9" stroke="#231f20" stroke-width="2.8" stroke-linecap="butt"/>
<line x1="1435.8" y1="556" x2="1435.8" y2="595.9" stroke="#231f20" stroke-width="2.8" stroke-linecap="butt"/>
<text x="1435.8" y="526.9" font-size="26.5" fill="#231f20" text-anchor="middle">H</text>
<line x1="1439" y1="552.9" x2="1432.5" y2="552.9" stroke="#231f20" stroke-width="3.8" stroke-linecap="butt"/>
<line x1="1439" y1="546.6" x2="1432.5" y2="546.6" stroke="#231f20" stroke-width="3.8" stroke-linecap="butt"/>
<line x1="1439" y1="540.4" x2="1432.5" y2="540.4" stroke="#231f20" stroke-width="3.8" stroke-linecap="butt"/>
<line x1="1439" y1="534.1" x2="1432.5" y2="534.1" stroke="#231f20" stroke-width="3.8" stroke-linecap="butt"/>
<text x="1435.8" y="645.3" font-size="26.5" fill="#231f20" text-anchor="middle">H</text>
<line x1="1432.5" y1="598.9" x2="1439" y2="598.9" stroke="#231f20" stroke-width="3.8" stroke-linecap="butt"/>
<line x1="1432.5" y1="604.8" x2="1439" y2="604.8" stroke="#231f20" stroke-width="3.8" stroke-linecap="butt"/>
<line x1="1432.5" y1="610.7" x2="1439" y2="610.7" stroke="#231f20" stroke-width="3.8" stroke-linecap="butt"/>
<line x1="1432.5" y1="616.6" x2="1439" y2="616.6" stroke="#231f20" stroke-width="3.8" stroke-linecap="butt"/>
<text x="1472" y="554.3" font-size="26.5" fill="#231f20" text-anchor="middle">O</text>
<line x1="1458.3" y1="548.6" x2="1435.8" y2="556" stroke="#231f20" stroke-width="2.8" stroke-linecap="butt"/>
<line x1="1482" y1="556" x2="1496.9" y2="576" stroke="#231f20" stroke-width="2.8" stroke-linecap="butt"/>
<polygon points="1497.6,576.4 1511.2,559.2 1504.8,555.4 1496.2,575.6" fill="#231f20"/>
<text x="1515.6" y="551.8" font-size="26.5" fill="#231f20" text-anchor="middle">H</text>
<polyline points="1435.8,595.9 1472,607 1496.9,576 1534.3,576" fill="none" stroke="#231f20" stroke-width="2.8" stroke-linejoin="miter"/>
<line x1="1471.7" y1="610.7" x2="1474.3" y2="610" stroke="#231f20" stroke-width="2.2" stroke-linecap="butt"/>
<line x1="1473.1" y1="617.6" x2="1476.9" y2="616.4" stroke="#231f20" stroke-width="2.2" stroke-linecap="butt"/>
<line x1="1474.4" y1="624.4" x2="1479.6" y2="622.9" stroke="#231f20" stroke-width="2.2" stroke-linecap="butt"/>
<circle cx="1484.4" cy="647" r="25" fill="url(#g_o)"/>
<text x="1484.4" y="657.2" font-size="28.5" fill="#231f20" text-anchor="middle" font-style="italic">[O]</text>
<polygon points="1534.9,576.5 1552.5,558.9 1546.1,554.1 1533.7,575.5" fill="#231f20"/>
<text x="1558" y="554.3" font-size="26.5" fill="#231f20" text-anchor="middle">O</text>
<line x1="1572.9" y1="548.6" x2="1595.4" y2="556" stroke="#231f20" stroke-width="2.8" stroke-linecap="butt"/>
<polygon points="1596.1,556.3 1606.4,537.3 1599.4,534.7 1594.7,555.7" fill="#231f20"/>
<text x="1600.4" y="530" font-size="26.5" fill="#231f20">Me</text>
<line x1="1598.8" y1="556.9" x2="1598.6" y2="554.4" stroke="#231f20" stroke-width="2.2" stroke-linecap="butt"/>
<line x1="1605.5" y1="556.8" x2="1605.2" y2="553.3" stroke="#231f20" stroke-width="2.2" stroke-linecap="butt"/>
<line x1="1612.2" y1="556.7" x2="1611.8" y2="552.2" stroke="#231f20" stroke-width="2.2" stroke-linecap="butt"/>
<line x1="1618.9" y1="556.6" x2="1618.4" y2="551.1" stroke="#231f20" stroke-width="2.2" stroke-linecap="butt"/>
<text x="1624" y="560" font-size="26.5" fill="#231f20">Me</text>
<line x1="1595.4" y1="556" x2="1595.4" y2="581" stroke="#231f20" stroke-width="2.8" stroke-linecap="butt"/>
<text x="1595.4" y="605.5" font-size="26.5" fill="#231f20" text-anchor="middle">O</text>
<polyline points="1580.5,600.4 1558,607 1534.3,576" fill="none" stroke="#231f20" stroke-width="2.8" stroke-linejoin="miter"/>
<text x="1486.3" y="698" font-size="25.5" fill="#231f20" text-anchor="middle" font-weight="bold" textLength="27.7" lengthAdjust="spacingAndGlyphs">69</text>
<polygon points="1898,584 1916.6,550 1956.6,550 1975,584 1956.6,618.8 1916.6,618.8" fill="none" stroke="#231f20" stroke-width="2.8" stroke-linejoin="miter"/>
<text x="1834.5" y="573.7" font-size="26.5" fill="#231f20">HO</text>
<polygon points="1898.4,583.3 1878.5,569.1 1874.7,576.1 1897.6,584.7" fill="#231f20"/>
<line x1="1894.6" y1="584.7" x2="1896.1" y2="586.9" stroke="#231f20" stroke-width="2.2" stroke-linecap="butt"/>
<line x1="1888.9" y1="587.8" x2="1891.1" y2="591" stroke="#231f20" stroke-width="2.2" stroke-linecap="butt"/>
<line x1="1883.2" y1="590.8" x2="1886" y2="595.1" stroke="#231f20" stroke-width="2.2" stroke-linecap="butt"/>
<line x1="1877.5" y1="593.9" x2="1881" y2="599.2" stroke="#231f20" stroke-width="2.2" stroke-linecap="butt"/>
<text x="1784" y="613.7" font-size="26.5" fill="#231f20">MeO<tspan dy="6.4" font-size="18">2</tspan><tspan dy="-6.4">​</tspan>C</text>
<polygon points="1957.3,550.4 1971.4,532.6 1964.6,528.6 1955.9,549.6" fill="#231f20"/>
<text x="1967" y="525.8" font-size="26.5" fill="#231f20">OTBS</text>
<polygon points="1975,584.8 1992.5,588 1992.5,580 1975,583.2" fill="#231f20"/>
<circle cx="2016" cy="584" r="25" fill="url(#g_o)"/>
<text x="2016" y="594.2" font-size="28.5" fill="#231f20" text-anchor="middle" font-style="italic">[O]</text>
<line x1="1957" y1="622.2" x2="1959.3" y2="620.8" stroke="#231f20" stroke-width="2.2" stroke-linecap="butt"/>
<line x1="1959.6" y1="627.9" x2="1962.9" y2="625.9" stroke="#231f20" stroke-width="2.2" stroke-linecap="butt"/>
<line x1="1962.1" y1="633.6" x2="1966.6" y2="631" stroke="#231f20" stroke-width="2.2" stroke-linecap="butt"/>
<line x1="1964.7" y1="639.3" x2="1970.2" y2="636.1" stroke="#231f20" stroke-width="2.2" stroke-linecap="butt"/>
<text x="1968" y="662" font-size="26.5" fill="#231f20">OTBS</text>
<text x="1912" y="702" font-size="25.5" fill="#231f20" text-anchor="middle" font-weight="bold" textLength="27.7" lengthAdjust="spacingAndGlyphs">70</text>
<path d="M18.5,1066 q-5.5,2.85 0,5.7 q5.5,2.85 0,5.7 q-5.5,2.85 0,5.7 q5.5,2.85 0,5.7 q-5.5,2.85 0,5.7 q5.5,2.85 0,5.7 q-5.5,2.85 0,5.7 q5.5,2.85 0,5.7 q-5.5,2.85 0,5.7 q5.5,2.85 0,5.7 q-5.5,2.85 0,5.7 q5.5,2.85 0,5.7 q-5.5,2.85 0,5.7 q5.5,2.85 0,5.7" fill="none" stroke="#231f20" stroke-width="2.6"/>
<polyline points="18,1067.2 50.9,1086 50.9,1126.3 18,1144" fill="none" stroke="#231f20" stroke-width="2.8" stroke-linejoin="miter"/>
<line x1="24.5" y1="1080.3" x2="44" y2="1090.8" stroke="#231f20" stroke-width="2.8" stroke-dasharray="7 5.5"/>
<line x1="24.5" y1="1132.5" x2="44" y2="1122" stroke="#231f20" stroke-width="2.8" stroke-dasharray="7 5.5"/>
<line x1="50.9" y1="1086" x2="63.9" y2="1080" stroke="#231f20" stroke-width="2.8" stroke-linecap="butt"/>
<circle cx="85.1" cy="1066" r="25" fill="url(#g_x)"/>
<text x="85.1" y="1076.2" font-size="28.5" fill="#231f20" text-anchor="middle">X</text>
<line x1="50.9" y1="1126.3" x2="69.8" y2="1137" stroke="#231f20" stroke-width="2.8" stroke-linecap="butt"/>
<text x="85.1" y="1154.5" font-size="26.5" fill="#231f20" text-anchor="middle">Y</text>
<polyline points="100.5,1137 119.4,1126.3 119.4,1086 153.7,1067.2" fill="none" stroke="#231f20" stroke-width="2.8" stroke-linejoin="miter"/>
<line x1="127.7" y1="1090.8" x2="157.3" y2="1073" stroke="#231f20" stroke-width="2.8" stroke-linecap="butt"/>
<text x="56.8" y="1196" font-size="27" fill="#231f20" text-anchor="middle" font-weight="bold" textLength="73" lengthAdjust="spacingAndGlyphs">71<tspan stroke="#231f20" stroke-width="2.2">–</tspan>76</text>
<polygon points="179.8,1088.5 208.1,1088.5 208.1,1080 225.9,1098 208.1,1116.9 208.1,1107.4 179.8,1107.4" fill="#434343"/>
<text x="141.9" y="1151" font-size="27" fill="#555" font-weight="bold" font-style="italic" textLength="121.8" lengthAdjust="spacingAndGlyphs">5-exo-trig</text>
<text x="255.4" y="1087.3" font-size="26.5" fill="#231f20" text-anchor="middle">R</text>
<line x1="272" y1="1086" x2="289.7" y2="1095.6" stroke="#231f20" stroke-width="2.8" stroke-linecap="butt"/>
<polygon points="289.7,1095.6 324,1077.8 358.3,1095.6 358.3,1137 324,1155.9 289.7,1137" fill="none" stroke="#231f20" stroke-width="2.8" stroke-linejoin="miter"/>
<line x1="298" y1="1100.3" x2="298" y2="1132.2" stroke="#231f20" stroke-width="2.8" stroke-linecap="butt"/>
<line x1="325.2" y1="1087.5" x2="350" y2="1101.8" stroke="#231f20" stroke-width="2.8" stroke-linecap="butt"/>
<line x1="325.2" y1="1145.8" x2="350" y2="1131.4" stroke="#231f20" stroke-width="2.8" stroke-linecap="butt"/>
<polyline points="358.3,1095.6 396.2,1085 418.6,1116.8 405.6,1134.6" fill="none" stroke="#231f20" stroke-width="2.8" stroke-linejoin="miter"/>
<line x1="379.6" y1="1144" x2="358.3" y2="1137" stroke="#231f20" stroke-width="2.8" stroke-linecap="butt"/>
<text x="395" y="1157.1" font-size="26.5" fill="#231f20" text-anchor="middle">Y</text>
<line x1="396.2" y1="1085" x2="402" y2="1064.8" stroke="#231f20" stroke-width="2.8" stroke-linecap="butt"/>
<text x="397.4" y="1059" font-size="26.5" fill="#231f20">Me</text>
<text x="370" y="1196" font-size="27" fill="#231f20" text-anchor="middle" font-weight="bold" textLength="73" lengthAdjust="spacingAndGlyphs">77<tspan stroke="#231f20" stroke-width="2.2">–</tspan>79</text>
<rect x="454" y="969" width="326" height="52" fill="#e9e9e8"/>
<rect x="456" y="1021" width="52" height="176" fill="#e9e9e8"/>
<text x="524.4" y="1005" font-size="27" fill="#231f20" text-anchor="middle" font-weight="bold">R</text>
<text x="583.1" y="1005" font-size="27" fill="#231f20" text-anchor="middle" font-weight="bold">Y</text>
<text x="657.7" y="1005" font-size="27" fill="#231f20" text-anchor="middle" font-weight="bold">X</text>
<text x="732.2" y="1005" font-size="27" fill="#231f20" text-anchor="middle" font-weight="bold" textLength="63.5" lengthAdjust="spacingAndGlyphs">Yield</text>
<text x="463" y="1062.5" font-size="27" fill="#231f20" font-weight="bold" textLength="37" lengthAdjust="spacingAndGlyphs">71:</text>
<text x="524.4" y="1062.5" font-size="26.5" fill="#231f20" text-anchor="middle">F</text>
<text x="582.6" y="1062.5" font-size="26.5" fill="#231f20" text-anchor="middle">N–Ac</text>
<circle cx="657.7" cy="1054" r="25" fill="url(#g_br)"/>
<text x="657.7" y="1064.2" font-size="28.5" fill="#231f20" text-anchor="middle">Br</text>
<text x="712.7" y="1062.5" font-size="26.5" fill="#231f20">84%</text>
<text x="463" y="1123.7" font-size="27" fill="#231f20" font-weight="bold" textLength="37" lengthAdjust="spacingAndGlyphs">72:</text>
<text x="524.4" y="1123.7" font-size="26.5" fill="#231f20" text-anchor="middle">H</text>
<text x="582.6" y="1123.7" font-size="26.5" fill="#231f20" text-anchor="middle">S</text>
<circle cx="657.7" cy="1115.2" r="25" fill="url(#g_br)"/>
<text x="657.7" y="1125.4" font-size="28.5" fill="#231f20" text-anchor="middle">Br</text>
<text x="712.7" y="1123.7" font-size="26.5" fill="#231f20">89%</text>
<text x="463" y="1184.8" font-size="27" fill="#231f20" font-weight="bold" textLength="37" lengthAdjust="spacingAndGlyphs">73:</text>
<text x="524.4" y="1184.8" font-size="26.5" fill="#231f20" text-anchor="middle">F</text>
<text x="582.6" y="1184.8" font-size="26.5" fill="#231f20" text-anchor="middle">O</text>
<circle cx="657.7" cy="1176.3" r="25" fill="url(#g_cl)"/>
<text x="657.7" y="1186.5" font-size="28.5" fill="#231f20" text-anchor="middle">Cl</text>
<text x="712.7" y="1184.8" font-size="26.5" fill="#231f20">54%<tspan dy="-6.9" dx="1" font-size="21.2" fill="#555">†</tspan><tspan dy="6.9">​</tspan></text>
<polyline points="851,1136 871.8,1125 871.8,1083.3 836.3,1063.7 802,1083.3 802,1123.7 822.8,1136" fill="none" stroke="#231f20" stroke-width="2.8" stroke-linejoin="miter"/>
<text x="836.3" y="1152.7" font-size="26.5" fill="#231f20" text-anchor="middle">O</text>
<polyline points="871.8,1083.3 908.4,1072.3 931.7,1104.1 917,1123.7" fill="none" stroke="#231f20" stroke-width="2.8" stroke-linejoin="miter"/>
<text x="908.4" y="1145.5" font-size="26.5" fill="#231f20" text-anchor="middle">O</text>
<line x1="895" y1="1131" x2="871.8" y2="1125" stroke="#231f20" stroke-width="2.8" stroke-linecap="butt"/>
<line x1="908.4" y1="1072.3" x2="915.8" y2="1050.3" stroke="#231f20" stroke-width="2.8" stroke-linecap="butt"/>
<text x="911" y="1044.5" font-size="26.5" fill="#231f20">Me</text>
<text x="871.8" y="1053.7" font-size="26.5" fill="#231f20" text-anchor="middle">H</text>
<line x1="875" y1="1080.1" x2="868.5" y2="1080.1" stroke="#231f20" stroke-width="3.2" stroke-linecap="butt"/>
<line x1="875" y1="1073.7" x2="868.5" y2="1073.7" stroke="#231f20" stroke-width="3.2" stroke-linecap="butt"/>
<line x1="875" y1="1067.2" x2="868.5" y2="1067.2" stroke="#231f20" stroke-width="3.2" stroke-linecap="butt"/>
<line x1="875" y1="1060.8" x2="868.5" y2="1060.8" stroke="#231f20" stroke-width="3.2" stroke-linecap="butt"/>
<text x="871.8" y="1171.7" font-size="26.5" fill="#231f20" text-anchor="middle">H</text>
<line x1="868.5" y1="1127.9" x2="875" y2="1127.9" stroke="#231f20" stroke-width="3.2" stroke-linecap="butt"/>
<line x1="868.5" y1="1133.6" x2="875" y2="1133.6" stroke="#231f20" stroke-width="3.2" stroke-linecap="butt"/>
<line x1="868.5" y1="1139.4" x2="875" y2="1139.4" stroke="#231f20" stroke-width="3.2" stroke-linecap="butt"/>
<line x1="868.5" y1="1145.1" x2="875" y2="1145.1" stroke="#231f20" stroke-width="3.2" stroke-linecap="butt"/>
<text x="873.6" y="1208" font-size="25.5" fill="#231f20" text-anchor="middle" font-weight="bold" textLength="27.7" lengthAdjust="spacingAndGlyphs">80</text>
<rect x="968" y="969" width="208" height="52" fill="#e9e9e8"/>
<rect x="968" y="1021" width="52" height="176" fill="#e9e9e8"/>
<text x="1053" y="1005" font-size="27" fill="#231f20" text-anchor="middle" font-weight="bold">X</text>
<text x="1128" y="1005" font-size="27" fill="#231f20" text-anchor="middle" font-weight="bold" textLength="63.5" lengthAdjust="spacingAndGlyphs">Yield</text>
<text x="976.7" y="1062.5" font-size="27" fill="#231f20" font-weight="bold" textLength="37" lengthAdjust="spacingAndGlyphs">74:</text>
<circle cx="1055" cy="1054" r="25" fill="url(#g_x)"/>
<text x="1055" y="1064" font-size="28" fill="#231f20" text-anchor="middle" font-weight="bold">I</text>
<text x="1131" y="1062.5" font-size="26.5" fill="#231f20" text-anchor="middle">87%</text>
<text x="976.7" y="1123.7" font-size="27" fill="#231f20" font-weight="bold" textLength="37" lengthAdjust="spacingAndGlyphs">75:</text>
<circle cx="1055" cy="1115.2" r="25" fill="url(#g_br)"/>
<text x="1055" y="1125.4" font-size="28.5" fill="#231f20" text-anchor="middle">Br</text>
<text x="1131" y="1123.7" font-size="26.5" fill="#231f20" text-anchor="middle">80%</text>
<text x="976.7" y="1184.8" font-size="27" fill="#231f20" font-weight="bold" textLength="37" lengthAdjust="spacingAndGlyphs">76:</text>
<circle cx="1055" cy="1176.3" r="25" fill="url(#g_cl)"/>
<text x="1055" y="1186.5" font-size="28.5" fill="#231f20" text-anchor="middle">Cl</text>
<text x="1105" y="1184.8" font-size="26.5" fill="#231f20">44%*</text>
<line x1="1200" y1="1021" x2="1200" y2="1175" stroke="#231f20" stroke-width="3.5" stroke-linecap="butt"/>
<line x1="1266.6" y1="1098" x2="1254.5" y2="1077" stroke="#231f20" stroke-width="2.8" stroke-linecap="butt"/>
<line x1="1266.6" y1="1098" x2="1280" y2="1077" stroke="#231f20" stroke-width="2.8" stroke-linecap="butt"/>
<line x1="1266.6" y1="1098" x2="1245" y2="1112.5" stroke="#231f20" stroke-width="2.8" stroke-linecap="butt"/>
<line x1="1266.6" y1="1098" x2="1280.5" y2="1106.5" stroke="#231f20" stroke-width="2.8" stroke-linecap="butt"/>
<circle cx="1247" cy="1065" r="13" fill="url(#g_b1)"/>
<circle cx="1286.9" cy="1065" r="13" fill="url(#g_b2)"/>
<circle cx="1233.2" cy="1119.2" r="12.8" fill="url(#g_b3)"/>
<circle cx="1300.8" cy="1118.8" r="25" fill="url(#g_x)"/>
<text x="1300.8" y="1129" font-size="28.5" fill="#231f20" text-anchor="middle">X</text>
<line x1="1325.3" y1="1055.2" x2="1358.3" y2="1036.8" stroke="#1a5ba3" stroke-width="2.8" stroke-linecap="butt"/>
<line x1="1327.7" y1="1062.5" x2="1357" y2="1046.6" stroke="#1a5ba3" stroke-width="2.8" stroke-linecap="butt"/>
<line x1="1358.3" y1="1036.8" x2="1379" y2="1049" stroke="#1a5ba3" stroke-width="2.8" stroke-linecap="butt"/>
<text x="1382.8" y="1066" font-size="27" fill="#1a5ba3" font-weight="bold" textLength="38" lengthAdjust="spacingAndGlyphs">CN</text>
<polygon points="1348.5,1089.4 1376.6,1089.4 1376.6,1080.9 1393.8,1098.6 1376.6,1116.3 1376.6,1106.6 1348.5,1106.6" fill="#434343"/>
<text x="1335" y="1155.5" font-size="27" fill="#555" font-weight="bold" font-style="italic" textLength="72" lengthAdjust="spacingAndGlyphs">Giese</text>
<text x="1496.6" y="1116.1" font-size="26.5" fill="#231f20" text-anchor="middle">N</text>
<polyline points="1496.6,1092 1496.6,1066.2 1530.9,1046.6 1565.1,1066.2 1565.1,1107.8 1530.9,1126.1 1511.3,1115.1" fill="none" stroke="#231f20" stroke-width="2.8" stroke-linejoin="miter"/>
<text x="1423" y="1136" font-size="26.5" fill="#231f20">Boc</text>
<line x1="1484.4" y1="1114" x2="1471" y2="1120" stroke="#231f20" stroke-width="2.8" stroke-linecap="butt"/>
<line x1="1565.1" y1="1066.2" x2="1599.4" y2="1047.8" stroke="#231f20" stroke-width="2.8" stroke-linecap="butt"/>
<polyline points="1599.4,1047.8 1599.4,1007.5 1620.2,995.3" fill="none" stroke="#1a5ba3" stroke-width="2.8" stroke-linejoin="miter"/>
<text x="1623.8" y="998.9" font-size="27" fill="#1a5ba3" font-weight="bold" textLength="37" lengthAdjust="spacingAndGlyphs">CN</text>
<circle cx="1508.9" cy="1164" r="25" fill="url(#g_br)"/>
<text x="1508.9" y="1174.2" font-size="28.5" fill="#231f20" text-anchor="middle">Br</text>
<text x="1575" y="1158" font-size="25.5" fill="#231f20" text-anchor="middle" font-weight="bold" textLength="27.7" lengthAdjust="spacingAndGlyphs">81</text>
<text x="1575" y="1188.5" font-size="26.5" fill="#231f20" text-anchor="middle">93%<tspan dy="-6.9" dx="1" font-size="21.2" fill="#555">†</tspan><tspan dy="6.9">​</tspan></text>
<text x="1656.8" y="1051.5" font-size="26.5" fill="#231f20">F<tspan dy="6.4" font-size="18">3</tspan><tspan dy="-6.4">​</tspan>C</text>
<line x1="1704.5" y1="1049" x2="1724" y2="1063.7" stroke="#231f20" stroke-width="2.8" stroke-linecap="butt"/>
<line x1="1724" y1="1063.7" x2="1747.4" y2="1057.6" stroke="#231f20" stroke-width="2.8" stroke-linecap="butt"/>
<line x1="1733.9" y1="1069.9" x2="1752.2" y2="1064.5" stroke="#231f20" stroke-width="2.8" stroke-linecap="butt"/>
<text x="1762" y="1062.2" font-size="26.5" fill="#231f20" text-anchor="middle">N</text>
<line x1="1773" y1="1067.4" x2="1778" y2="1071" stroke="#231f20" stroke-width="2.8" stroke-linecap="butt"/>
<text x="1786.5" y="1092.8" font-size="26.5" fill="#231f20" text-anchor="middle">N</text>
<line x1="1775.6" y1="1096.8" x2="1762" y2="1115.1" stroke="#231f20" stroke-width="2.8" stroke-linecap="butt"/>
<line x1="1762" y1="1115.1" x2="1725.3" y2="1104.1" stroke="#231f20" stroke-width="2.8" stroke-linecap="butt"/>
<line x1="1733.9" y1="1096.8" x2="1758.4" y2="1105.3" stroke="#231f20" stroke-width="2.8" stroke-linecap="butt"/>
<line x1="1725.3" y1="1104.1" x2="1724" y2="1063.7" stroke="#231f20" stroke-width="2.8" stroke-linecap="butt"/>
<text x="1626.3" y="1136" font-size="26.5" fill="#231f20">EtO<tspan dy="6.4" font-size="18">2</tspan><tspan dy="-6.4">​</tspan>C</text>
<line x1="1725.3" y1="1104.1" x2="1704.5" y2="1117.6" stroke="#231f20" stroke-width="2.8" stroke-linecap="butt"/>
<line x1="1798.7" y1="1083.3" x2="1825.3" y2="1083.3" stroke="#231f20" stroke-width="2.8" stroke-linecap="butt"/>
<polyline points="1825.3,1083 1845,1049 1863.8,1083" fill="none" stroke="#231f20" stroke-width="2.8" stroke-linejoin="miter"/>
<polyline points="1825.3,1083 1818.7,1126 1840.7,1105" fill="none" stroke="#231f20" stroke-width="2.8" stroke-linejoin="miter"/>
<line x1="1849.5" y1="1096.3" x2="1863.8" y2="1085" stroke="#231f20" stroke-width="2.8" stroke-linecap="butt"/>
<polyline points="1825.3,1083 1870.4,1126 1863.8,1083" fill="none" stroke="#231f20" stroke-width="2.8" stroke-linejoin="miter"/>
<line x1="1863.8" y1="1083" x2="1903.4" y2="1083" stroke="#231f20" stroke-width="2.8" stroke-linecap="butt"/>
<polyline points="1903.4,1083 1923.2,1050 1912.2,1030.3" fill="none" stroke="#1a5ba3" stroke-width="2.8" stroke-linejoin="miter"/>
<text x="1875.9" y="1025.9" font-size="27" fill="#1a5ba3" font-weight="bold" textLength="36" lengthAdjust="spacingAndGlyphs">NC</text>
<circle cx="1742.5" cy="1164" r="25" fill="url(#g_x)"/>
<text x="1742.5" y="1174" font-size="28" fill="#231f20" text-anchor="middle" font-weight="bold">I</text>
<text x="1809.8" y="1158" font-size="25.5" fill="#231f20" text-anchor="middle" font-weight="bold" textLength="27.7" lengthAdjust="spacingAndGlyphs">82</text>
<text x="1809.8" y="1188.5" font-size="26.5" fill="#231f20" text-anchor="middle">79%<tspan dy="-6.9" dx="1" font-size="21.2" fill="#555">†</tspan><tspan dy="6.9">​</tspan></text>
<text x="1950.7" y="1131.5" font-size="26.5" fill="#231f20">Ph</text>
<polyline points="1984.8,1117.2 2009,1102.9 2043,1122.7" fill="none" stroke="#231f20" stroke-width="2.8" stroke-linejoin="miter"/>
<polyline points="2043,1122.7 2077.2,1104 2077.2,1078.7" fill="none" stroke="#1a5ba3" stroke-width="2.8" stroke-linejoin="miter"/>
<text x="2068.4" y="1073.2" font-size="27" fill="#1a5ba3" font-weight="bold" textLength="36" lengthAdjust="spacingAndGlyphs">CN</text>
<circle cx="2011.2" cy="1164.5" r="25" fill="url(#g_cl)"/>
<text x="2011.2" y="1174.7" font-size="28.5" fill="#231f20" text-anchor="middle">Cl</text>
<text x="2078" y="1156.8" font-size="25.5" fill="#231f20" text-anchor="middle" font-weight="bold" textLength="27.7" lengthAdjust="spacingAndGlyphs">83</text>
<text x="2078" y="1188.5" font-size="26.5" fill="#231f20" text-anchor="middle">32%<tspan dy="-6.9" dx="1" font-size="21.2" fill="#555">†</tspan><tspan dy="6.9">​</tspan></text>
</svg></body></html>
